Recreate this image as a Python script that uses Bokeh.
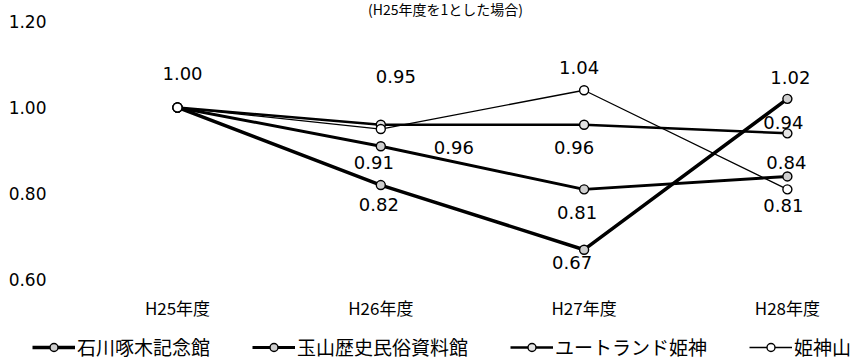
from bokeh.plotting import figure
from bokeh.models import (ColumnDataSource, FixedTicker, Legend, LegendItem, Label,
                          NumeralTickFormatter, Range1d)
from bokeh.layouts import column
from bokeh.core.properties import value
from bokeh.embed import file_html
from bokeh.resources import INLINE

# ---------------- data ----------------
categories = ["H25年度", "H26年度", "H27年度", "H28年度"]
series_names = ["石川啄木記念館", "玉山歴史民俗資料館", "ユートランド姫神", "姫神山"]
ishikawa = [1.00, 0.82, 0.67, 1.02]
tamayama = [1.00, 0.91, 0.81, 0.84]
utoland = [1.00, 0.96, 0.96, 0.94]
himekami = [1.00, 0.95, 1.04, 0.81]
y_ticks = [0.60, 0.80, 1.00, 1.20]
subtitle = "(H25年度を1とした場合)"

series_values = [ishikawa, tamayama, utoland, himekami]

# ---------------- styles ----------------
line_widths = [3.5, 3.0, 2.5, 1.3]
marker_fills = ["#cfcfcf", "#cfcfcf", "#e4e4e4", "#ffffff"]
# label offsets in pixels (dx, dy); None = no label
label_offsets = [
    [None, (-2, 19), (-12, 13), (3, -21)],
    [None, (-7, 16), (-7, 23), (-1, -14)],
    [None, (73, 23), (-10, 23), (-4, -11)],
    [(5, -34), (15, -53), (-5, -23), (-4, 16)],
]

JP = "Noto Sans CJK JP"
NUM = "DejaVu Sans"

p = figure(width=855, height=330, output_backend="svg", toolbar_location=None,
           x_range=Range1d(-0.5755, 3.3104), y_range=Range1d(0.5916, 1.2436),
           min_border_left=60, min_border_right=5, min_border_top=2, min_border_bottom=47)
p.outline_line_color = None
p.xgrid.visible = False
p.ygrid.visible = False
p.background_fill_color = "white"
p.border_fill_color = "white"

xs = list(range(len(categories)))

for vals, lw, fc in zip(series_values, line_widths, marker_fills):
    src = ColumnDataSource(dict(x=xs, y=vals))
    p.line("x", "y", source=src, line_color="black", line_width=lw)
    p.scatter("x", "y", source=src, marker="circle", size=9,
              fill_color=fc, line_color="black", line_width=1.4)

# data labels
lx, ly, lt, ldx, ldy = [], [], [], [], []
for vals, offs in zip(series_values, label_offsets):
    for i, (v, o) in enumerate(zip(vals, offs)):
        if o is None:
            continue
        lx.append(i); ly.append(v); lt.append(f"{v:.2f}")
        ldx.append(o[0]); ldy.append(o[1])
lsrc = ColumnDataSource(dict(x=lx, y=ly, text=lt, dx=ldx, dy=ldy))
p.text("x", "y", text="text", source=lsrc, x_offset="dx", y_offset="dy",
       text_align="center", text_baseline="middle", text_color="black",
       text_font=value(NUM), text_font_size="18px")

# axes
xa = p.xaxis[0]
xa.ticker = FixedTicker(ticks=xs)
xa.major_label_overrides = {i: c for i, c in enumerate(categories)}
xa.axis_line_color = None
xa.major_tick_line_color = None
xa.minor_tick_line_color = None
xa.major_label_standoff = 5
xa.major_label_text_font = JP
xa.major_label_text_font_size = "17px"
xa.major_label_text_color = "black"

ya = p.yaxis[0]
ya.ticker = FixedTicker(ticks=y_ticks)
ya.formatter = NumeralTickFormatter(format="0.00")
ya.axis_line_color = None
ya.major_tick_line_color = None
ya.minor_tick_line_color = None
ya.major_label_standoff = 8
ya.major_label_text_font = NUM
ya.major_label_text_font_size = "17px"
ya.major_label_text_color = "black"

p.add_layout(Label(x=385, y=265, x_units="screen", y_units="screen", text=subtitle,
                   text_align="center", text_baseline="bottom", text_font=JP,
                   text_font_size="14px", text_color="black"))

# ---------------- legend strip ----------------
pl = figure(width=855, height=33, output_backend="svg", toolbar_location=None,
            x_range=Range1d(0, 1), y_range=Range1d(0, 1),
            x_axis_location=None, y_axis_location=None,
            min_border_left=0, min_border_right=0, min_border_top=0, min_border_bottom=0)
pl.outline_line_color = None
pl.xgrid.visible = False
pl.ygrid.visible = False
for plot in (p, pl):
    if "frame_align" in plot.properties():
        plot.frame_align = False

nan = float("nan")
items = []
for name, lw, fc in zip(series_names, line_widths, marker_fills):
    proxy = ColumnDataSource(dict(x=[nan], y=[nan]))
    lr = pl.line("x", "y", source=proxy, line_color="black", line_width=lw)
    sr = pl.scatter("x", "y", source=proxy, marker="circle", size=9,
                    fill_color=fc, line_color="black", line_width=1.4)
    items.append(LegendItem(label=name, renderers=[lr, sr]))

legend = Legend(items=items, orientation="horizontal", location=(32, 3),
                glyph_width=43, glyph_height=20, label_height=20, label_standoff=2,
                spacing=42, padding=0, margin=0, border_line_color=None,
                background_fill_alpha=0, label_text_font=JP,
                label_text_font_size="19px", label_text_color="black")
pl.add_layout(legend)

layout = column(p, pl, spacing=0)
open("out.html", "w").write(file_html(layout, INLINE))
